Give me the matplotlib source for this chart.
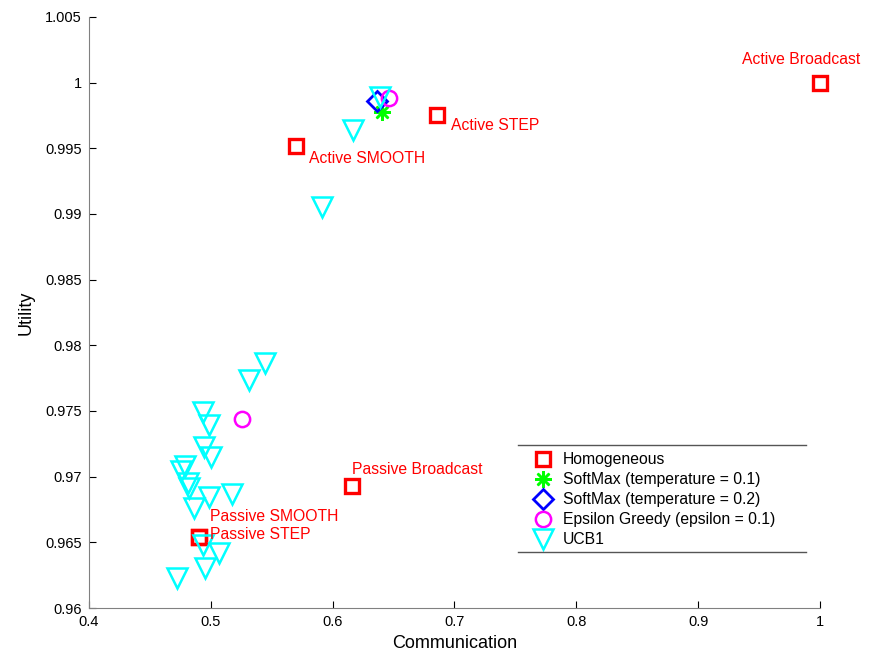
import matplotlib.pyplot as plt
from matplotlib.lines import Line2D

plt.rcParams['font.family'] = ['Liberation Sans', 'DejaVu Sans']

# Homogeneous strategies (communication, utility)
homo_x = [1.0, 0.6857, 0.5699, 0.6159, 0.4903, 0.4903]
homo_y = [1.0, 0.99754, 0.99518, 0.96929, 0.96540, 0.96540]
homo_labels = ['Active Broadcast', 'Active STEP', 'Active SMOOTH',
               'Passive Broadcast', 'Passive SMOOTH', 'Passive STEP']
label_x = [0.936, 0.6971, 0.5806, 0.6159, 0.4993, 0.4993]
label_y = [1.00173, 0.99670, 0.99426, 0.97051, 0.96693, 0.96556]

softmax01_x = [0.6405]
softmax01_y = [0.99777]
softmax02_x = [0.6364]
softmax02_y = [0.99860]
eps_x = [0.6462, 0.5256]
eps_y = [0.99883, 0.97439]

ucb_x = [0.6389, 0.6167, 0.5913,
         0.5445, 0.5313, 0.4936, 0.4985, 0.4944, 0.5001, 0.4788, 0.4755,
         0.4813, 0.4821, 0.4985, 0.5174, 0.4862, 0.4936, 0.5067, 0.4952, 0.4722]
ucb_y = [0.99891, 0.99640, 0.99053,
         0.97865, 0.97736, 0.97492, 0.97393, 0.97226, 0.97150, 0.97081, 0.97043,
         0.96952, 0.96914, 0.96845, 0.96868, 0.96761, 0.96480, 0.96419, 0.96304, 0.96228]

fig = plt.figure(figsize=(8.7, 6.53), dpi=100)
ax = fig.add_axes([0.1023, 0.0689, 0.8402, 0.9051])

ax.plot(homo_x, homo_y, 's', ls='none', mfc='none', mec='red', mew=2.4, ms=9.5,
        label='Homogeneous', clip_on=False)
ax.plot(softmax01_x, softmax01_y, marker=(8, 2, 0), ls='none', color=(0, 1, 0),
        mew=1.8, ms=12, label='SoftMax (temperature = 0.1)')
ax.plot(softmax02_x, softmax02_y, 'D', ls='none', mfc='none', mec='blue', mew=2, ms=10,
        label='SoftMax (temperature = 0.2)')
ax.plot(eps_x, eps_y, 'o', ls='none', mfc='none', mec='magenta', mew=1.8, ms=11,
        label='Epsilon Greedy (epsilon = 0.1)')
ax.plot(ucb_x, ucb_y, 'v', ls='none', mfc='none', mec='cyan', mew=1.8, ms=14,
        label='UCB1')

for lx, ly, txt in zip(label_x, label_y, homo_labels):
    ax.text(lx, ly, txt, color='red', fontsize=11.3, ha='left', va='center',
            clip_on=False)

ax.set_xlim(0.4, 1.0)
ax.set_ylim(0.96, 1.005)
ax.set_xticks([0.4, 0.5, 0.6, 0.7, 0.8, 0.9, 1.0])
ax.set_xticklabels(['0.4', '0.5', '0.6', '0.7', '0.8', '0.9', '1'])
ax.set_yticks([0.96, 0.965, 0.97, 0.975, 0.98, 0.985, 0.99, 0.995, 1.0, 1.005])
ax.set_yticklabels(['0.96', '0.965', '0.97', '0.975', '0.98', '0.985', '0.99',
                    '0.995', '1', '1.005'])
ax.tick_params(direction='in', length=5, labelsize=10.5, color='black', pad=5)
ax.spines['top'].set_visible(False)
ax.spines['right'].set_visible(False)
for s in ('left', 'bottom'):
    ax.spines[s].set_color('#808080')
ax.set_xlabel('Communication', fontsize=13, labelpad=4)
ax.set_ylabel('Utility', fontsize=13, labelpad=8)

leg = ax.legend(loc='upper left', bbox_to_anchor=(525 / 870, 1 - 446 / 653),
                bbox_transform=fig.transFigure, frameon=False, fontsize=11.3,
                handletextpad=0.5, labelspacing=0.32, borderaxespad=0,
                handlelength=1.5)

# rules above and below the legend
for yy in (445, 552):
    fig.add_artist(Line2D([518 / 870, 806 / 870], [1 - yy / 653, 1 - yy / 653],
                          color='#555555', lw=1, transform=fig.transFigure))

fig.savefig('out.png', dpi=100)
